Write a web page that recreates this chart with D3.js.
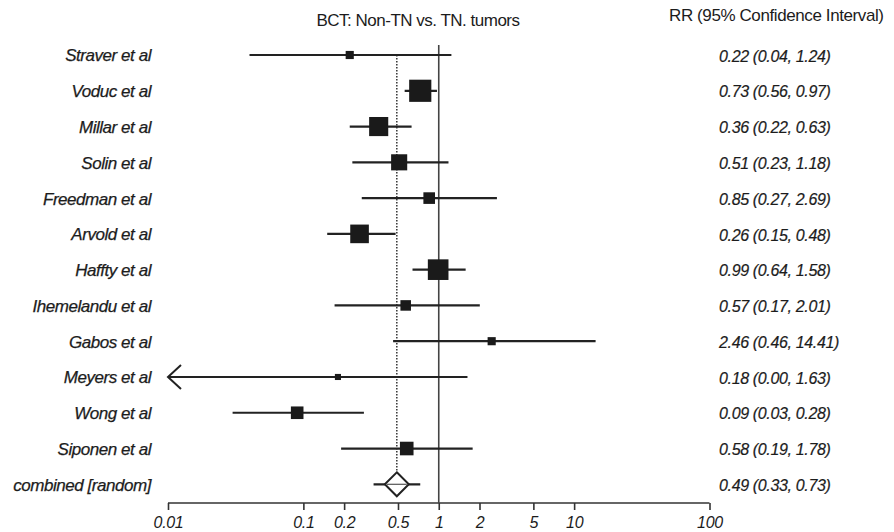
<html>
<head>
<meta charset="utf-8">
<script src="https://cdn.jsdelivr.net/npm/d3@7"></script>
<style>
  body { margin: 0; background: #fff; }
  text { font-family: "Liberation Sans", Arial, sans-serif; fill: #1c1c1c; }
</style>
</head>
<body>
<div id="chart"></div>
<script>
// studies, relative risk and 95% CI
var studies = ["Straver et al", "Voduc et al", "Millar et al", "Solin et al", "Freedman et al",
  "Arvold et al", "Haffty et al", "Ihemelandu et al", "Gabos et al", "Meyers et al",
  "Wong et al", "Siponen et al"];
var rr    = [0.22, 0.73, 0.36, 0.51, 0.85, 0.26, 0.99, 0.57, 2.46, 0.18, 0.09, 0.58];
var lower = [0.04, 0.56, 0.22, 0.23, 0.27, 0.15, 0.64, 0.17, 0.46, 0.00, 0.03, 0.19];
var upper = [1.24, 0.97, 0.63, 1.18, 2.69, 0.48, 1.58, 2.01, 14.41, 1.63, 0.28, 1.78];
// approximate study weights (%)
var weights = [2.5, 18.6, 13.8, 9.8, 5.1, 13.1, 16.1, 4.2, 2.5, 1.4, 6.0, 7.0];

var pooledLabel = "combined [random]";
var pooled = {rr: 0.49, lo: 0.33, hi: 0.73};

var tickValues = [0.01, 0.1, 0.2, 0.5, 1, 2, 5, 10, 100];
var tickLabels = ["0.01", "0.1", "0.2", "0.5", "1", "2", "5", "10", "100"];

var width = 894, height = 532;
var svg = d3.select("#chart").append("svg")
  .attr("width", width).attr("height", height)
  .style("background", "#fff");

var x = d3.scaleLog().domain([0.01, 100]).range([168, 709.5]);
var rows = studies.concat([pooledLabel]);
var y = d3.scalePoint().domain(d3.range(rows.length)).range([55, 484.3]);
var box = d3.scaleSqrt().domain([0, 20]).range([0, 23]);

var data = studies.map(function (s, i) {
  return {name: s, rr: rr[i], lo: lower[i], hi: upper[i], w: weights[i], i: i};
});

function fmt(v) { return v.toFixed(2); }

// headers
svg.append("text")
  .attr("x", 418).attr("y", 26)
  .attr("text-anchor", "middle")
  .style("font-size", "17px")
  .style("letter-spacing", "-0.5px")
  .text("BCT: Non-TN vs. TN. tumors");

svg.append("text")
  .attr("x", 669).attr("y", 21)
  .style("font-size", "17px")
  .style("letter-spacing", "-0.4px")
  .text("RR (95% Confidence Interval)");

// axis
var axisY = 503;
var axis = d3.axisBottom(x)
  .tickValues(tickValues)
  .tickSize(7)
  .tickFormat(function (d, i) { return tickLabels[i]; });
var gAxis = svg.append("g").attr("transform", "translate(0," + axisY + ")").call(axis);
gAxis.select(".domain").attr("stroke", "#333").attr("stroke-width", 1.6).attr("d", "M" + x(0.01) + ",0H" + x(100));
gAxis.selectAll(".tick line").attr("stroke", "#333").attr("stroke-width", 1.6);
gAxis.selectAll(".tick text")
  .attr("y", 14)
  .style("font-size", "16px")
  .style("font-style", "italic")
  .style("letter-spacing", "-0.3px")
  .style("font-family", "'Liberation Sans', Arial, sans-serif")
  .style("fill", "#1c1c1c");

// line of no effect
svg.append("line")
  .attr("x1", x(1)).attr("x2", x(1))
  .attr("y1", 45).attr("y2", axisY)
  .attr("stroke", "#444").attr("stroke-width", 1.6);

// dotted line at pooled estimate
svg.append("line")
  .attr("x1", x(pooled.rr)).attr("x2", x(pooled.rr))
  .attr("y1", y(0)).attr("y2", y(rows.length - 1) - 12)
  .attr("stroke", "#333").attr("stroke-width", 1.5)
  .attr("stroke-dasharray", "1.5,1.5");

// CI lines
var clip = function (v) { return Math.max(v, 0.01); };
svg.selectAll(".ci").data(data).enter().append("line")
  .attr("class", "ci")
  .attr("x1", function (d) { return x(clip(d.lo)); })
  .attr("x2", function (d) { return x(d.hi); })
  .attr("y1", function (d) { return y(d.i); })
  .attr("y2", function (d) { return y(d.i); })
  .attr("stroke", "#222").attr("stroke-width", 2.2);

// arrows where the CI runs off the axis
svg.selectAll(".arrow").data(data.filter(function (d) { return d.lo < 0.01; })).enter()
  .append("path")
  .attr("class", "arrow")
  .attr("d", function (d) {
    var x0 = x(0.01), y0 = y(d.i);
    return "M" + (x0 + 13) + "," + (y0 - 12) + "L" + x0 + "," + y0 + "L" + (x0 + 13) + "," + (y0 + 12);
  })
  .attr("fill", "none").attr("stroke", "#222").attr("stroke-width", 2);

// boxes
svg.selectAll(".box").data(data).enter().append("rect")
  .attr("class", "box")
  .attr("x", function (d) { return x(d.rr) - box(d.w) / 2; })
  .attr("y", function (d) { return y(d.i) - box(d.w) / 2; })
  .attr("width", function (d) { return box(d.w); })
  .attr("height", function (d) { return box(d.w); })
  .attr("fill", "#1a1a1a");

// pooled estimate
var py = y(rows.length - 1);
svg.append("line")
  .attr("x1", x(pooled.lo)).attr("x2", x(pooled.hi))
  .attr("y1", py).attr("y2", py)
  .attr("stroke", "#222").attr("stroke-width", 2.2);
svg.append("path")
  .attr("d", "M" + x(pooled.rr) + "," + (py - 12) + "L" + (x(pooled.rr) + 12) + "," + py +
    "L" + x(pooled.rr) + "," + (py + 12) + "L" + (x(pooled.rr) - 12) + "," + py + "Z")
  .attr("fill", "#fff").attr("stroke", "#222").attr("stroke-width", 2);
svg.append("line")
  .attr("x1", x(pooled.rr) - 10).attr("x2", x(pooled.rr) + 10)
  .attr("y1", py).attr("y2", py)
  .attr("stroke", "#555").attr("stroke-width", 1.2);

// left labels
svg.selectAll(".lab").data(rows).enter().append("text")
  .attr("class", "lab")
  .attr("x", 151)
  .attr("y", function (d, i) { return y(i); })
  .attr("dy", "0.38em")
  .attr("text-anchor", "end")
  .style("font-size", "17px")
  .style("font-style", "italic")
  .style("letter-spacing", "-0.45px")
  .style("stroke", "#1c1c1c").style("stroke-width", 0.25)
  .text(function (d) { return d; });

// right column values
var rightText = data.map(function (d) { return fmt(d.rr) + " (" + fmt(d.lo) + ", " + fmt(d.hi) + ")"; })
  .concat([fmt(pooled.rr) + " (" + fmt(pooled.lo) + ", " + fmt(pooled.hi) + ")"]);
svg.selectAll(".val").data(rightText).enter().append("text")
  .attr("class", "val")
  .attr("x", 719)
  .attr("y", function (d, i) { return y(i); })
  .attr("dy", "0.42em")
  .style("font-size", "16px")
  .style("font-style", "italic")
  .style("letter-spacing", "-0.35px")
  .style("stroke", "#1c1c1c").style("stroke-width", 0.2)
  .text(function (d) { return d; });
</script>
</body>
</html>
